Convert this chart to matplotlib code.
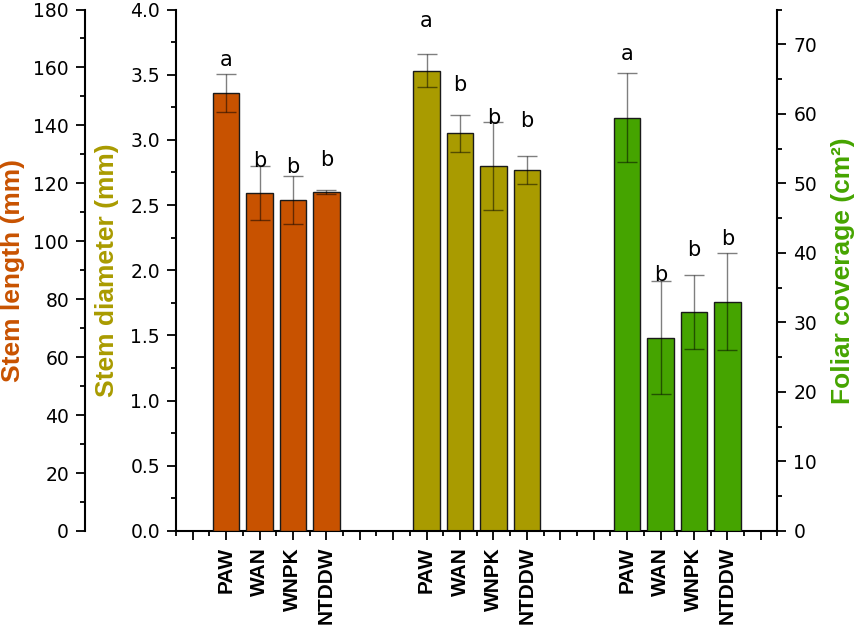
import matplotlib.pyplot as plt
from matplotlib.ticker import MultipleLocator

plt.rcParams['font.family'] = ['Liberation Sans', 'DejaVu Sans']

# Данные
treatments = ['PAW', 'WAN', 'WNPK', 'NTDDW']

stem_length = [151.2, 116.6, 114.1, 116.9]
stem_length_err = [6.6, 9.3, 8.3, 0.7]
stem_length_letters = ['a', 'b', 'b', 'b']
stem_length_letter_y = [160.4, 125.6, 123.4, 125.9]

stem_diam = [3.53, 3.05, 2.80, 2.77]
stem_diam_err = [0.125, 0.14, 0.335, 0.11]
stem_diam_letters = ['a', 'b', 'b', 'b']
stem_diam_letter_y = [3.862, 3.373, 3.125, 3.099]

foliar = [59.4, 27.8, 31.5, 33.0]
foliar_err = [6.4, 8.1, 5.3, 7.0]
foliar_letters = ['a', 'b', 'b', 'b']
foliar_letter_y = [67.7, 36.0, 39.6, 41.2]

pos_length = [1, 2, 3, 4]
pos_diam = [7, 8, 9, 10]
pos_foliar = [13, 14, 15, 16]

c_length = '#C85200'
c_diam = '#A99B00'
c_foliar = '#45A400'

fig = plt.figure(figsize=(8.58, 6.27), dpi=100)
ax = fig.add_axes([176/858, 96/627, 601.5/858, 521.5/627])
ax_len = ax.twinx()
ax_fol = ax.twinx()

err_kw = dict(ecolor='black', elinewidth=1.0, capsize=7.5, capthick=1.0, alpha=0.5)

def draw_group(a, pos, vals, errs, letters, letter_y, color):
    a.bar(pos, vals, width=0.8, color=color, edgecolor='#1a1a1a', linewidth=1.0, zorder=2)
    a.errorbar(pos, vals, yerr=errs, fmt='none', zorder=3, **err_kw)
    for p, l, y in zip(pos, letters, letter_y):
        a.text(p, y, l, ha='center', va='baseline', fontsize=15,
               family='DejaVu Sans', zorder=4)

draw_group(ax_len, pos_length, stem_length, stem_length_err, stem_length_letters, stem_length_letter_y, c_length)
draw_group(ax, pos_diam, stem_diam, stem_diam_err, stem_diam_letters, stem_diam_letter_y, c_diam)
draw_group(ax_fol, pos_foliar, foliar, foliar_err, foliar_letters, foliar_letter_y, c_foliar)

ax.set_xlim(-0.5, 17.5)
ax.set_ylim(0, 4.0)
ax_len.set_ylim(0, 180)
ax_fol.set_ylim(0, 75)

# Оси Y
ax.yaxis.set_major_locator(MultipleLocator(0.5))
ax.yaxis.set_minor_locator(MultipleLocator(0.25))
ax.yaxis.set_major_formatter(plt.FormatStrFormatter('%.1f'))

ax_len.yaxis.set_ticks_position('left')
ax_len.yaxis.set_label_position('left')
ax_len.spines['left'].set_position(('outward', 65.5))
ax_len.spines['left'].set_visible(True)
ax_len.spines['right'].set_visible(False)
ax_len.yaxis.set_major_locator(MultipleLocator(20))
ax_len.yaxis.set_minor_locator(MultipleLocator(10))

ax_fol.yaxis.set_major_locator(MultipleLocator(10))
ax_fol.yaxis.set_minor_locator(MultipleLocator(5))

for a in (ax, ax_len, ax_fol):
    a.spines['top'].set_visible(False)
    for s in a.spines.values():
        s.set_linewidth(1.5)
    a.tick_params(which='major', direction='out', length=6.5, width=1.3, pad=5)
    a.tick_params(which='minor', direction='out', length=3.5, width=1.3)
    a.tick_params(axis='y', labelsize=13.5, labelfontfamily='DejaVu Sans')
ax.spines['right'].set_visible(False)
ax_fol.spines['left'].set_visible(False)
ax_len.spines['bottom'].set_visible(False)
ax_fol.spines['bottom'].set_visible(False)

# Ось X: подписи только под столбцами
xt = list(range(18))
xl = [''] * 18
for group in (pos_length, pos_diam, pos_foliar):
    for p, t in zip(group, treatments):
        xl[p] = t
ax.set_xticks(xt, labels=xl, rotation=90, fontsize=15, fontweight='bold',
              family='Liberation Sans')
ax.xaxis.set_minor_locator(MultipleLocator(0.5))

ax_len.set_ylabel('Stem length (mm)', color=c_length, fontsize=19, fontweight='bold')
ax.set_ylabel('Stem diameter (mm)', color=c_diam, fontsize=19, fontweight='bold')
ax_fol.set_ylabel('Foliar coverage (cm²)', color=c_foliar, fontsize=19, fontweight='bold')
for a in (ax, ax_len, ax_fol):
    a.yaxis.label.set_verticalalignment('center')
ax_len.yaxis.set_label_coords(-0.271, 0.5)
ax.yaxis.set_label_coords(-0.115, 0.5)
ax_fol.yaxis.set_label_coords(1.109, 0.5)

fig.savefig('out.png', dpi=100)
